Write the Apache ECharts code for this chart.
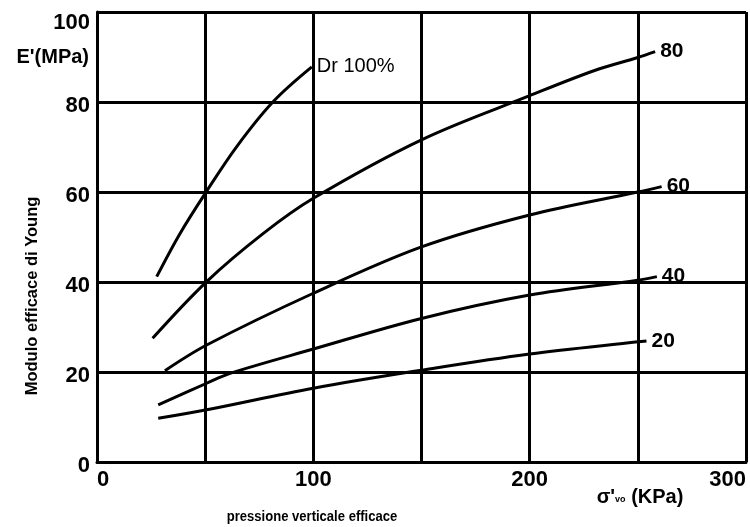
<!DOCTYPE html>
<html><head><meta charset="utf-8">
<script src="https://cdn.jsdelivr.net/npm/echarts@6/dist/echarts.min.js"></script>
<style>html,body{margin:0;padding:0;background:#fff}#c{width:750px;height:527px}</style>
</head><body><div id="c"></div>
<script>
// Tick labels
const xTickLabels = [0, 100, 200, 300];
const yTickLabels = [0, 20, 40, 60, 80, 100];
// Curve labels (relative density Dr)
const curveLabels = ['Dr 100%', '80', '60', '40', '20'];
// Series values: [sigma'vo (kPa), E' (MPa)]
const dr100 = [[27.6,41.2],[38.4,50.8],[50.3,59.9],[64.6,70.1],[81.5,80.1],[99.3,87.8]];
const dr80  = [[25.7,27.5],[50.7,40.1],[76.9,50.8],[100,58.6],[150,71.6],[200,81.4],[230,87.0],[250,89.9],[258,91.2]];
const dr60  = [[31.4,20.3],[50.7,26.0],[100,37.5],[150,47.8],[200,54.9],[250,60.0],[261,61.2]];
const dr40  = [[28.3,12.7],[50.7,17.5],[61.5,19.7],[100,25.1],[150,31.9],[200,37.1],[250,40.4],[258.8,41.2]];
const dr20  = [[28.3,9.7],[50.7,11.6],[100,16.4],[150,20.4],[200,24.0],[250,26.7],[254,26.9]];

const FONT = 'Liberation Sans, Arial, sans-serif';
const chart = echarts.init(document.getElementById('c'), null, {renderer: 'canvas'});
const allData = [dr100, dr80, dr60, dr40, dr20];
const series = allData.map((d, i) => ({
  type: 'line',
  name: curveLabels[i],
  data: d,
  smooth: 0.35,
  showSymbol: false,
  symbol: 'none',
  lineStyle: {color: '#000', width: 3},
  endLabel: {
    show: true,
    formatter: curveLabels[i],
    color: '#000',
    fontFamily: FONT,
    fontSize: i === 0 ? 20 : 21,
    fontWeight: i === 0 ? 'normal' : 'bold',
    distance: 5
  },
  z: 5
}));

const option = {
  animation: false,
  backgroundColor: '#fff',
  grid: {left: 97, right: 4, top: 12, bottom: 65, containLabel: false},
  xAxis: {
    type: 'value', min: 0, max: 300, interval: 50,
    axisLine: {show: true, lineStyle: {color: '#000', width: 3}},
    axisTick: {show: false},
    splitLine: {show: true, showMinLine: true, showMaxLine: true, lineStyle: {color: '#000', width: 3}},
    axisLabel: {
      color: '#000', fontFamily: FONT, fontSize: 22, fontWeight: 'bold', margin: 7,
      alignMinLabel: 'left', alignMaxLabel: 'right',
      formatter: v => xTickLabels.indexOf(v) >= 0 ? String(v) : ''
    }
  },
  yAxis: {
    type: 'value', min: 0, max: 100, interval: 20,
    axisLine: {show: true, lineStyle: {color: '#000', width: 3}},
    axisTick: {show: false},
    splitLine: {show: true, showMinLine: true, showMaxLine: true, lineStyle: {color: '#000', width: 3}},
    axisLabel: {
      color: '#000', fontFamily: FONT, fontSize: 22, fontWeight: 'bold', margin: 7,
      formatter: v => yTickLabels.indexOf(v) >= 0 ? (v === 100 ? '{top|' + v + '}' : '{n|' + v + '}') : '',
      rich: {
        n: {fontFamily: FONT, fontSize: 22, fontWeight: 'bold', color: '#000', padding: [8, 0, 0, 0]},
        top: {fontFamily: FONT, fontSize: 22, fontWeight: 'bold', color: '#000', padding: [22, 0, 0, 0]}
      }
    }
  },
  graphic: [
    {type: 'text', right: 750 - 89, top: 47,
     style: {text: "E'(MPa)", fill: '#000', font: 'bold 20px ' + FONT}},
    {type: 'text', x: 32, y: 296, rotation: Math.PI / 2,
     style: {text: 'Modulo efficace di Young', fill: '#000', font: 'bold 16.5px ' + FONT, align: 'center', verticalAlign: 'middle'}},
    {type: 'text', x: 312, y: 517, scaleX: 0.87,
     style: {text: 'pressione verticale efficace', fill: '#000', font: 'bold 15px ' + FONT, align: 'center', verticalAlign: 'middle'}},
    {type: 'text', x: 640, y: 497,
     style: {text: "σ'{s|vo} (KPa)", fill: '#000', font: 'bold 20px ' + FONT, align: 'center', verticalAlign: 'middle',
       rich: {s: {fontSize: 9, fontWeight: 'bold', fontFamily: FONT, fill: '#000', padding: [6, 0, 0, 0]}}}}
  ],
  series: series
};
chart.setOption(option);
</script>
</body></html>
